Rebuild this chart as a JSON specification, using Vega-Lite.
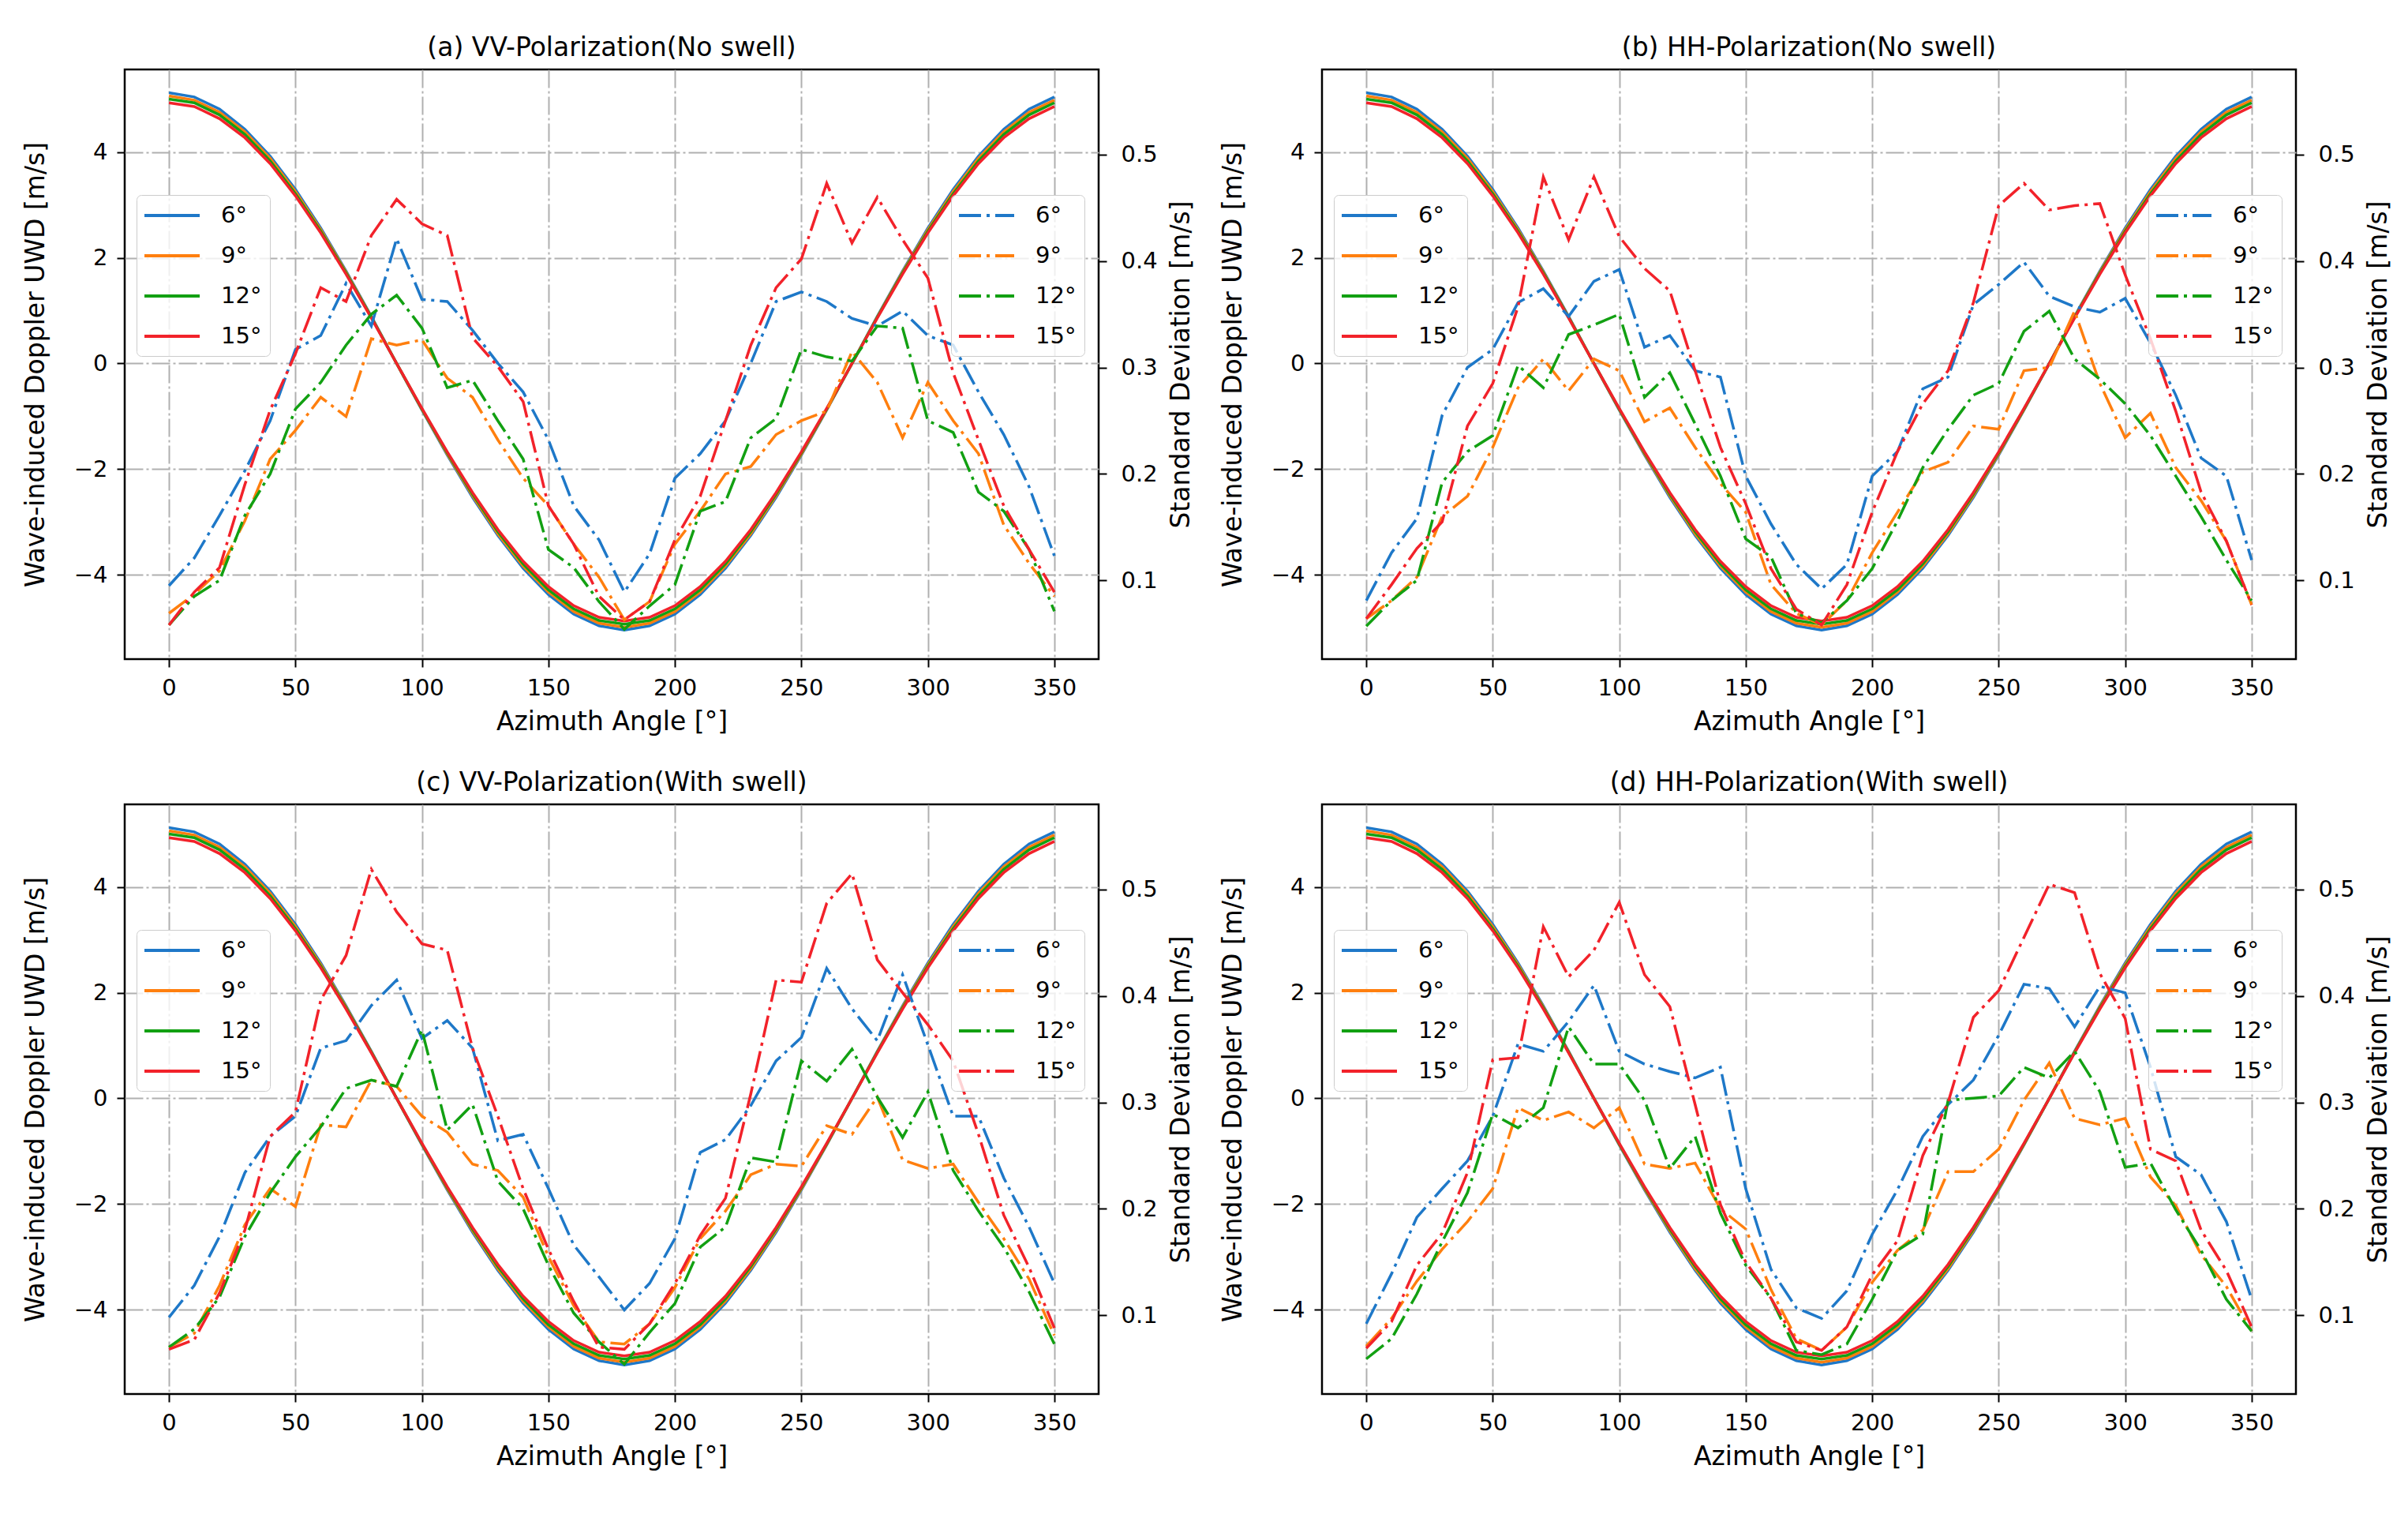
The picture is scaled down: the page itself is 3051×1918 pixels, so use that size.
{
  "$schema": "https://vega.github.io/schema/vega-lite/v6.json",
  "background": "white",
  "padding": {"left": 28, "top": 43, "right": 10, "bottom": 10},
  "columns": 2,
  "bounds": "flush",
  "spacing": {"row": 184, "column": 283},
  "datasets": {
    "dop": [
      {"g":"6°","x":0,"y":5.12},{"g":"6°","x":10,"y":5.04},{"g":"6°","x":20,"y":4.81},{"g":"6°","x":30,"y":4.43},{"g":"6°","x":40,"y":3.92},{"g":"6°","x":50,"y":3.29},{"g":"6°","x":60,"y":2.56},{"g":"6°","x":70,"y":1.75},{"g":"6°","x":80,"y":0.89},{"g":"6°","x":90,"y":0},{"g":"6°","x":100,"y":-0.88},{"g":"6°","x":110,"y":-1.73},{"g":"6°","x":120,"y":-2.53},{"g":"6°","x":130,"y":-3.25},{"g":"6°","x":140,"y":-3.87},{"g":"6°","x":150,"y":-4.37},{"g":"6°","x":160,"y":-4.74},{"g":"6°","x":170,"y":-4.96},{"g":"6°","x":180,"y":-5.04},{"g":"6°","x":190,"y":-4.96},{"g":"6°","x":200,"y":-4.74},{"g":"6°","x":210,"y":-4.37},{"g":"6°","x":220,"y":-3.87},{"g":"6°","x":230,"y":-3.25},{"g":"6°","x":240,"y":-2.53},{"g":"6°","x":250,"y":-1.73},{"g":"6°","x":260,"y":-0.88},{"g":"6°","x":270,"y":0},{"g":"6°","x":280,"y":0.89},{"g":"6°","x":290,"y":1.75},{"g":"6°","x":300,"y":2.56},{"g":"6°","x":310,"y":3.29},{"g":"6°","x":320,"y":3.92},{"g":"6°","x":330,"y":4.43},{"g":"6°","x":340,"y":4.81},{"g":"6°","x":350,"y":5.04},
      {"g":"9°","x":0,"y":5.06},{"g":"9°","x":10,"y":4.98},{"g":"9°","x":20,"y":4.75},{"g":"9°","x":30,"y":4.38},{"g":"9°","x":40,"y":3.88},{"g":"9°","x":50,"y":3.25},{"g":"9°","x":60,"y":2.53},{"g":"9°","x":70,"y":1.73},{"g":"9°","x":80,"y":0.88},{"g":"9°","x":90,"y":0},{"g":"9°","x":100,"y":-0.87},{"g":"9°","x":110,"y":-1.71},{"g":"9°","x":120,"y":-2.5},{"g":"9°","x":130,"y":-3.22},{"g":"9°","x":140,"y":-3.83},{"g":"9°","x":150,"y":-4.32},{"g":"9°","x":160,"y":-4.69},{"g":"9°","x":170,"y":-4.91},{"g":"9°","x":180,"y":-4.99},{"g":"9°","x":190,"y":-4.91},{"g":"9°","x":200,"y":-4.69},{"g":"9°","x":210,"y":-4.32},{"g":"9°","x":220,"y":-3.83},{"g":"9°","x":230,"y":-3.22},{"g":"9°","x":240,"y":-2.5},{"g":"9°","x":250,"y":-1.71},{"g":"9°","x":260,"y":-0.87},{"g":"9°","x":270,"y":0},{"g":"9°","x":280,"y":0.88},{"g":"9°","x":290,"y":1.73},{"g":"9°","x":300,"y":2.53},{"g":"9°","x":310,"y":3.25},{"g":"9°","x":320,"y":3.88},{"g":"9°","x":330,"y":4.38},{"g":"9°","x":340,"y":4.75},{"g":"9°","x":350,"y":4.98},
      {"g":"12°","x":0,"y":5.0},{"g":"12°","x":10,"y":4.93},{"g":"12°","x":20,"y":4.7},{"g":"12°","x":30,"y":4.33},{"g":"12°","x":40,"y":3.83},{"g":"12°","x":50,"y":3.21},{"g":"12°","x":60,"y":2.5},{"g":"12°","x":70,"y":1.71},{"g":"12°","x":80,"y":0.87},{"g":"12°","x":90,"y":0},{"g":"12°","x":100,"y":-0.86},{"g":"12°","x":110,"y":-1.69},{"g":"12°","x":120,"y":-2.47},{"g":"12°","x":130,"y":-3.18},{"g":"12°","x":140,"y":-3.79},{"g":"12°","x":150,"y":-4.28},{"g":"12°","x":160,"y":-4.64},{"g":"12°","x":170,"y":-4.86},{"g":"12°","x":180,"y":-4.93},{"g":"12°","x":190,"y":-4.86},{"g":"12°","x":200,"y":-4.64},{"g":"12°","x":210,"y":-4.28},{"g":"12°","x":220,"y":-3.79},{"g":"12°","x":230,"y":-3.18},{"g":"12°","x":240,"y":-2.47},{"g":"12°","x":250,"y":-1.69},{"g":"12°","x":260,"y":-0.86},{"g":"12°","x":270,"y":0},{"g":"12°","x":280,"y":0.87},{"g":"12°","x":290,"y":1.71},{"g":"12°","x":300,"y":2.5},{"g":"12°","x":310,"y":3.21},{"g":"12°","x":320,"y":3.83},{"g":"12°","x":330,"y":4.33},{"g":"12°","x":340,"y":4.7},{"g":"12°","x":350,"y":4.93},
      {"g":"15°","x":0,"y":4.93},{"g":"15°","x":10,"y":4.86},{"g":"15°","x":20,"y":4.63},{"g":"15°","x":30,"y":4.27},{"g":"15°","x":40,"y":3.78},{"g":"15°","x":50,"y":3.17},{"g":"15°","x":60,"y":2.47},{"g":"15°","x":70,"y":1.69},{"g":"15°","x":80,"y":0.86},{"g":"15°","x":90,"y":0},{"g":"15°","x":100,"y":-0.85},{"g":"15°","x":110,"y":-1.67},{"g":"15°","x":120,"y":-2.44},{"g":"15°","x":130,"y":-3.14},{"g":"15°","x":140,"y":-3.74},{"g":"15°","x":150,"y":-4.22},{"g":"15°","x":160,"y":-4.58},{"g":"15°","x":170,"y":-4.8},{"g":"15°","x":180,"y":-4.87},{"g":"15°","x":190,"y":-4.8},{"g":"15°","x":200,"y":-4.58},{"g":"15°","x":210,"y":-4.22},{"g":"15°","x":220,"y":-3.74},{"g":"15°","x":230,"y":-3.14},{"g":"15°","x":240,"y":-2.44},{"g":"15°","x":250,"y":-1.67},{"g":"15°","x":260,"y":-0.85},{"g":"15°","x":270,"y":0},{"g":"15°","x":280,"y":0.86},{"g":"15°","x":290,"y":1.69},{"g":"15°","x":300,"y":2.47},{"g":"15°","x":310,"y":3.17},{"g":"15°","x":320,"y":3.78},{"g":"15°","x":330,"y":4.27},{"g":"15°","x":340,"y":4.63},{"g":"15°","x":350,"y":4.86}
    ],
    "std": [
      {"p":"a","g":"6°","x":0,"y":0.095},{"p":"a","g":"6°","x":10,"y":0.121},{"p":"a","g":"6°","x":20,"y":0.161},{"p":"a","g":"6°","x":30,"y":0.203},{"p":"a","g":"6°","x":40,"y":0.25},{"p":"a","g":"6°","x":50,"y":0.317},{"p":"a","g":"6°","x":60,"y":0.33},{"p":"a","g":"6°","x":70,"y":0.379},{"p":"a","g":"6°","x":80,"y":0.339},{"p":"a","g":"6°","x":90,"y":0.421},{"p":"a","g":"6°","x":100,"y":0.364},{"p":"a","g":"6°","x":110,"y":0.362},{"p":"a","g":"6°","x":120,"y":0.335},{"p":"a","g":"6°","x":130,"y":0.304},{"p":"a","g":"6°","x":140,"y":0.277},{"p":"a","g":"6°","x":150,"y":0.232},{"p":"a","g":"6°","x":160,"y":0.17},{"p":"a","g":"6°","x":170,"y":0.138},{"p":"a","g":"6°","x":180,"y":0.089},{"p":"a","g":"6°","x":190,"y":0.125},{"p":"a","g":"6°","x":200,"y":0.196},{"p":"a","g":"6°","x":210,"y":0.219},{"p":"a","g":"6°","x":220,"y":0.25},{"p":"a","g":"6°","x":230,"y":0.304},{"p":"a","g":"6°","x":240,"y":0.362},{"p":"a","g":"6°","x":250,"y":0.371},{"p":"a","g":"6°","x":260,"y":0.362},{"p":"a","g":"6°","x":270,"y":0.346},{"p":"a","g":"6°","x":280,"y":0.339},{"p":"a","g":"6°","x":290,"y":0.353},{"p":"a","g":"6°","x":300,"y":0.33},{"p":"a","g":"6°","x":310,"y":0.321},{"p":"a","g":"6°","x":320,"y":0.277},{"p":"a","g":"6°","x":330,"y":0.237},{"p":"a","g":"6°","x":340,"y":0.188},{"p":"a","g":"6°","x":350,"y":0.123},
      {"p":"a","g":"9°","x":0,"y":0.069},{"p":"a","g":"9°","x":10,"y":0.087},{"p":"a","g":"9°","x":20,"y":0.109},{"p":"a","g":"9°","x":30,"y":0.156},{"p":"a","g":"9°","x":40,"y":0.214},{"p":"a","g":"9°","x":50,"y":0.241},{"p":"a","g":"9°","x":60,"y":0.272},{"p":"a","g":"9°","x":70,"y":0.254},{"p":"a","g":"9°","x":80,"y":0.327},{"p":"a","g":"9°","x":90,"y":0.321},{"p":"a","g":"9°","x":100,"y":0.326},{"p":"a","g":"9°","x":110,"y":0.29},{"p":"a","g":"9°","x":120,"y":0.272},{"p":"a","g":"9°","x":130,"y":0.232},{"p":"a","g":"9°","x":140,"y":0.196},{"p":"a","g":"9°","x":150,"y":0.17},{"p":"a","g":"9°","x":160,"y":0.134},{"p":"a","g":"9°","x":170,"y":0.103},{"p":"a","g":"9°","x":180,"y":0.063},{"p":"a","g":"9°","x":190,"y":0.08},{"p":"a","g":"9°","x":200,"y":0.134},{"p":"a","g":"9°","x":210,"y":0.165},{"p":"a","g":"9°","x":220,"y":0.2},{"p":"a","g":"9°","x":230,"y":0.207},{"p":"a","g":"9°","x":240,"y":0.237},{"p":"a","g":"9°","x":250,"y":0.25},{"p":"a","g":"9°","x":260,"y":0.259},{"p":"a","g":"9°","x":270,"y":0.315},{"p":"a","g":"9°","x":280,"y":0.286},{"p":"a","g":"9°","x":290,"y":0.234},{"p":"a","g":"9°","x":300,"y":0.286},{"p":"a","g":"9°","x":310,"y":0.25},{"p":"a","g":"9°","x":320,"y":0.219},{"p":"a","g":"9°","x":330,"y":0.152},{"p":"a","g":"9°","x":340,"y":0.116},{"p":"a","g":"9°","x":350,"y":0.085},
      {"p":"a","g":"12°","x":0,"y":0.058},{"p":"a","g":"12°","x":10,"y":0.085},{"p":"a","g":"12°","x":20,"y":0.1},{"p":"a","g":"12°","x":30,"y":0.161},{"p":"a","g":"12°","x":40,"y":0.2},{"p":"a","g":"12°","x":50,"y":0.261},{"p":"a","g":"12°","x":60,"y":0.286},{"p":"a","g":"12°","x":70,"y":0.321},{"p":"a","g":"12°","x":80,"y":0.35},{"p":"a","g":"12°","x":90,"y":0.368},{"p":"a","g":"12°","x":100,"y":0.337},{"p":"a","g":"12°","x":110,"y":0.281},{"p":"a","g":"12°","x":120,"y":0.288},{"p":"a","g":"12°","x":130,"y":0.25},{"p":"a","g":"12°","x":140,"y":0.214},{"p":"a","g":"12°","x":150,"y":0.129},{"p":"a","g":"12°","x":160,"y":0.112},{"p":"a","g":"12°","x":170,"y":0.08},{"p":"a","g":"12°","x":180,"y":0.054},{"p":"a","g":"12°","x":190,"y":0.076},{"p":"a","g":"12°","x":200,"y":0.096},{"p":"a","g":"12°","x":210,"y":0.165},{"p":"a","g":"12°","x":220,"y":0.174},{"p":"a","g":"12°","x":230,"y":0.234},{"p":"a","g":"12°","x":240,"y":0.252},{"p":"a","g":"12°","x":250,"y":0.317},{"p":"a","g":"12°","x":260,"y":0.31},{"p":"a","g":"12°","x":270,"y":0.306},{"p":"a","g":"12°","x":280,"y":0.339},{"p":"a","g":"12°","x":290,"y":0.337},{"p":"a","g":"12°","x":300,"y":0.25},{"p":"a","g":"12°","x":310,"y":0.239},{"p":"a","g":"12°","x":320,"y":0.183},{"p":"a","g":"12°","x":330,"y":0.165},{"p":"a","g":"12°","x":340,"y":0.129},{"p":"a","g":"12°","x":350,"y":0.071},
      {"p":"a","g":"15°","x":0,"y":0.058},{"p":"a","g":"15°","x":10,"y":0.089},{"p":"a","g":"15°","x":20,"y":0.112},{"p":"a","g":"15°","x":30,"y":0.19},{"p":"a","g":"15°","x":40,"y":0.26},{"p":"a","g":"15°","x":50,"y":0.313},{"p":"a","g":"15°","x":60,"y":0.375},{"p":"a","g":"15°","x":70,"y":0.362},{"p":"a","g":"15°","x":80,"y":0.424},{"p":"a","g":"15°","x":90,"y":0.458},{"p":"a","g":"15°","x":100,"y":0.435},{"p":"a","g":"15°","x":110,"y":0.424},{"p":"a","g":"15°","x":120,"y":0.328},{"p":"a","g":"15°","x":130,"y":0.301},{"p":"a","g":"15°","x":140,"y":0.268},{"p":"a","g":"15°","x":150,"y":0.17},{"p":"a","g":"15°","x":160,"y":0.134},{"p":"a","g":"15°","x":170,"y":0.085},{"p":"a","g":"15°","x":180,"y":0.063},{"p":"a","g":"15°","x":190,"y":0.08},{"p":"a","g":"15°","x":200,"y":0.138},{"p":"a","g":"15°","x":210,"y":0.179},{"p":"a","g":"15°","x":220,"y":0.25},{"p":"a","g":"15°","x":230,"y":0.321},{"p":"a","g":"15°","x":240,"y":0.375},{"p":"a","g":"15°","x":250,"y":0.402},{"p":"a","g":"15°","x":260,"y":0.473},{"p":"a","g":"15°","x":270,"y":0.417},{"p":"a","g":"15°","x":280,"y":0.46},{"p":"a","g":"15°","x":290,"y":0.42},{"p":"a","g":"15°","x":300,"y":0.384},{"p":"a","g":"15°","x":310,"y":0.295},{"p":"a","g":"15°","x":320,"y":0.232},{"p":"a","g":"15°","x":330,"y":0.17},{"p":"a","g":"15°","x":340,"y":0.129},{"p":"a","g":"15°","x":350,"y":0.089},
      {"p":"b","g":"6°","x":0,"y":0.081},{"p":"b","g":"6°","x":10,"y":0.126},{"p":"b","g":"6°","x":20,"y":0.158},{"p":"b","g":"6°","x":30,"y":0.255},{"p":"b","g":"6°","x":40,"y":0.3},{"p":"b","g":"6°","x":50,"y":0.317},{"p":"b","g":"6°","x":60,"y":0.361},{"p":"b","g":"6°","x":70,"y":0.374},{"p":"b","g":"6°","x":80,"y":0.348},{"p":"b","g":"6°","x":90,"y":0.381},{"p":"b","g":"6°","x":100,"y":0.392},{"p":"b","g":"6°","x":110,"y":0.319},{"p":"b","g":"6°","x":120,"y":0.33},{"p":"b","g":"6°","x":130,"y":0.297},{"p":"b","g":"6°","x":140,"y":0.291},{"p":"b","g":"6°","x":150,"y":0.198},{"p":"b","g":"6°","x":160,"y":0.153},{"p":"b","g":"6°","x":170,"y":0.115},{"p":"b","g":"6°","x":180,"y":0.092},{"p":"b","g":"6°","x":190,"y":0.115},{"p":"b","g":"6°","x":200,"y":0.198},{"p":"b","g":"6°","x":210,"y":0.221},{"p":"b","g":"6°","x":220,"y":0.28},{"p":"b","g":"6°","x":230,"y":0.291},{"p":"b","g":"6°","x":240,"y":0.359},{"p":"b","g":"6°","x":250,"y":0.378},{"p":"b","g":"6°","x":260,"y":0.399},{"p":"b","g":"6°","x":270,"y":0.367},{"p":"b","g":"6°","x":280,"y":0.357},{"p":"b","g":"6°","x":290,"y":0.352},{"p":"b","g":"6°","x":300,"y":0.365},{"p":"b","g":"6°","x":310,"y":0.323},{"p":"b","g":"6°","x":320,"y":0.274},{"p":"b","g":"6°","x":330,"y":0.215},{"p":"b","g":"6°","x":340,"y":0.198},{"p":"b","g":"6°","x":350,"y":0.119},
      {"p":"b","g":"9°","x":0,"y":0.064},{"p":"b","g":"9°","x":10,"y":0.081},{"p":"b","g":"9°","x":20,"y":0.103},{"p":"b","g":"9°","x":30,"y":0.16},{"p":"b","g":"9°","x":40,"y":0.179},{"p":"b","g":"9°","x":50,"y":0.225},{"p":"b","g":"9°","x":60,"y":0.281},{"p":"b","g":"9°","x":70,"y":0.308},{"p":"b","g":"9°","x":80,"y":0.278},{"p":"b","g":"9°","x":90,"y":0.308},{"p":"b","g":"9°","x":100,"y":0.297},{"p":"b","g":"9°","x":110,"y":0.249},{"p":"b","g":"9°","x":120,"y":0.262},{"p":"b","g":"9°","x":130,"y":0.225},{"p":"b","g":"9°","x":140,"y":0.191},{"p":"b","g":"9°","x":150,"y":0.164},{"p":"b","g":"9°","x":160,"y":0.096},{"p":"b","g":"9°","x":170,"y":0.069},{"p":"b","g":"9°","x":180,"y":0.058},{"p":"b","g":"9°","x":190,"y":0.081},{"p":"b","g":"9°","x":200,"y":0.126},{"p":"b","g":"9°","x":210,"y":0.164},{"p":"b","g":"9°","x":220,"y":0.202},{"p":"b","g":"9°","x":230,"y":0.211},{"p":"b","g":"9°","x":240,"y":0.245},{"p":"b","g":"9°","x":250,"y":0.242},{"p":"b","g":"9°","x":260,"y":0.297},{"p":"b","g":"9°","x":270,"y":0.3},{"p":"b","g":"9°","x":280,"y":0.353},{"p":"b","g":"9°","x":290,"y":0.285},{"p":"b","g":"9°","x":300,"y":0.234},{"p":"b","g":"9°","x":310,"y":0.257},{"p":"b","g":"9°","x":320,"y":0.206},{"p":"b","g":"9°","x":330,"y":0.175},{"p":"b","g":"9°","x":340,"y":0.137},{"p":"b","g":"9°","x":350,"y":0.077},
      {"p":"b","g":"12°","x":0,"y":0.057},{"p":"b","g":"12°","x":10,"y":0.081},{"p":"b","g":"12°","x":20,"y":0.1},{"p":"b","g":"12°","x":30,"y":0.192},{"p":"b","g":"12°","x":40,"y":0.221},{"p":"b","g":"12°","x":50,"y":0.236},{"p":"b","g":"12°","x":60,"y":0.302},{"p":"b","g":"12°","x":70,"y":0.281},{"p":"b","g":"12°","x":80,"y":0.331},{"p":"b","g":"12°","x":90,"y":0.34},{"p":"b","g":"12°","x":100,"y":0.35},{"p":"b","g":"12°","x":110,"y":0.272},{"p":"b","g":"12°","x":120,"y":0.295},{"p":"b","g":"12°","x":130,"y":0.247},{"p":"b","g":"12°","x":140,"y":0.198},{"p":"b","g":"12°","x":150,"y":0.139},{"p":"b","g":"12°","x":160,"y":0.122},{"p":"b","g":"12°","x":170,"y":0.069},{"p":"b","g":"12°","x":180,"y":0.06},{"p":"b","g":"12°","x":190,"y":0.081},{"p":"b","g":"12°","x":200,"y":0.111},{"p":"b","g":"12°","x":210,"y":0.156},{"p":"b","g":"12°","x":220,"y":0.206},{"p":"b","g":"12°","x":230,"y":0.242},{"p":"b","g":"12°","x":240,"y":0.274},{"p":"b","g":"12°","x":250,"y":0.285},{"p":"b","g":"12°","x":260,"y":0.334},{"p":"b","g":"12°","x":270,"y":0.353},{"p":"b","g":"12°","x":280,"y":0.308},{"p":"b","g":"12°","x":290,"y":0.289},{"p":"b","g":"12°","x":300,"y":0.266},{"p":"b","g":"12°","x":310,"y":0.236},{"p":"b","g":"12°","x":320,"y":0.198},{"p":"b","g":"12°","x":330,"y":0.16},{"p":"b","g":"12°","x":340,"y":0.119},{"p":"b","g":"12°","x":350,"y":0.081},
      {"p":"b","g":"15°","x":0,"y":0.064},{"p":"b","g":"15°","x":10,"y":0.096},{"p":"b","g":"15°","x":20,"y":0.13},{"p":"b","g":"15°","x":30,"y":0.155},{"p":"b","g":"15°","x":40,"y":0.245},{"p":"b","g":"15°","x":50,"y":0.285},{"p":"b","g":"15°","x":60,"y":0.357},{"p":"b","g":"15°","x":70,"y":0.479},{"p":"b","g":"15°","x":80,"y":0.42},{"p":"b","g":"15°","x":90,"y":0.479},{"p":"b","g":"15°","x":100,"y":0.423},{"p":"b","g":"15°","x":110,"y":0.393},{"p":"b","g":"15°","x":120,"y":0.372},{"p":"b","g":"15°","x":130,"y":0.297},{"p":"b","g":"15°","x":140,"y":0.225},{"p":"b","g":"15°","x":150,"y":0.172},{"p":"b","g":"15°","x":160,"y":0.111},{"p":"b","g":"15°","x":170,"y":0.073},{"p":"b","g":"15°","x":180,"y":0.058},{"p":"b","g":"15°","x":190,"y":0.096},{"p":"b","g":"15°","x":200,"y":0.164},{"p":"b","g":"15°","x":210,"y":0.221},{"p":"b","g":"15°","x":220,"y":0.266},{"p":"b","g":"15°","x":230,"y":0.297},{"p":"b","g":"15°","x":240,"y":0.361},{"p":"b","g":"15°","x":250,"y":0.452},{"p":"b","g":"15°","x":260,"y":0.473},{"p":"b","g":"15°","x":270,"y":0.448},{"p":"b","g":"15°","x":280,"y":0.452},{"p":"b","g":"15°","x":290,"y":0.454},{"p":"b","g":"15°","x":300,"y":0.387},{"p":"b","g":"15°","x":310,"y":0.327},{"p":"b","g":"15°","x":320,"y":0.259},{"p":"b","g":"15°","x":330,"y":0.183},{"p":"b","g":"15°","x":340,"y":0.137},{"p":"b","g":"15°","x":350,"y":0.077},
      {"p":"c","g":"6°","x":0,"y":0.098},{"p":"c","g":"6°","x":10,"y":0.128},{"p":"c","g":"6°","x":20,"y":0.174},{"p":"c","g":"6°","x":30,"y":0.234},{"p":"c","g":"6°","x":40,"y":0.268},{"p":"c","g":"6°","x":50,"y":0.287},{"p":"c","g":"6°","x":60,"y":0.351},{"p":"c","g":"6°","x":70,"y":0.358},{"p":"c","g":"6°","x":80,"y":0.391},{"p":"c","g":"6°","x":90,"y":0.415},{"p":"c","g":"6°","x":100,"y":0.36},{"p":"c","g":"6°","x":110,"y":0.377},{"p":"c","g":"6°","x":120,"y":0.351},{"p":"c","g":"6°","x":130,"y":0.264},{"p":"c","g":"6°","x":140,"y":0.27},{"p":"c","g":"6°","x":150,"y":0.219},{"p":"c","g":"6°","x":160,"y":0.166},{"p":"c","g":"6°","x":170,"y":0.136},{"p":"c","g":"6°","x":180,"y":0.105},{"p":"c","g":"6°","x":190,"y":0.13},{"p":"c","g":"6°","x":200,"y":0.172},{"p":"c","g":"6°","x":210,"y":0.253},{"p":"c","g":"6°","x":220,"y":0.265},{"p":"c","g":"6°","x":230,"y":0.297},{"p":"c","g":"6°","x":240,"y":0.339},{"p":"c","g":"6°","x":250,"y":0.361},{"p":"c","g":"6°","x":260,"y":0.426},{"p":"c","g":"6°","x":270,"y":0.388},{"p":"c","g":"6°","x":280,"y":0.358},{"p":"c","g":"6°","x":290,"y":0.42},{"p":"c","g":"6°","x":300,"y":0.354},{"p":"c","g":"6°","x":310,"y":0.287},{"p":"c","g":"6°","x":320,"y":0.287},{"p":"c","g":"6°","x":330,"y":0.229},{"p":"c","g":"6°","x":340,"y":0.183},{"p":"c","g":"6°","x":350,"y":0.13},
      {"p":"c","g":"9°","x":0,"y":0.07},{"p":"c","g":"9°","x":10,"y":0.083},{"p":"c","g":"9°","x":20,"y":0.128},{"p":"c","g":"9°","x":30,"y":0.185},{"p":"c","g":"9°","x":40,"y":0.219},{"p":"c","g":"9°","x":50,"y":0.202},{"p":"c","g":"9°","x":60,"y":0.279},{"p":"c","g":"9°","x":70,"y":0.277},{"p":"c","g":"9°","x":80,"y":0.321},{"p":"c","g":"9°","x":90,"y":0.315},{"p":"c","g":"9°","x":100,"y":0.287},{"p":"c","g":"9°","x":110,"y":0.272},{"p":"c","g":"9°","x":120,"y":0.242},{"p":"c","g":"9°","x":130,"y":0.236},{"p":"c","g":"9°","x":140,"y":0.211},{"p":"c","g":"9°","x":150,"y":0.155},{"p":"c","g":"9°","x":160,"y":0.109},{"p":"c","g":"9°","x":170,"y":0.075},{"p":"c","g":"9°","x":180,"y":0.073},{"p":"c","g":"9°","x":190,"y":0.092},{"p":"c","g":"9°","x":200,"y":0.126},{"p":"c","g":"9°","x":210,"y":0.172},{"p":"c","g":"9°","x":220,"y":0.198},{"p":"c","g":"9°","x":230,"y":0.232},{"p":"c","g":"9°","x":240,"y":0.242},{"p":"c","g":"9°","x":250,"y":0.24},{"p":"c","g":"9°","x":260,"y":0.278},{"p":"c","g":"9°","x":270,"y":0.27},{"p":"c","g":"9°","x":280,"y":0.305},{"p":"c","g":"9°","x":290,"y":0.246},{"p":"c","g":"9°","x":300,"y":0.238},{"p":"c","g":"9°","x":310,"y":0.242},{"p":"c","g":"9°","x":320,"y":0.206},{"p":"c","g":"9°","x":330,"y":0.172},{"p":"c","g":"9°","x":340,"y":0.134},{"p":"c","g":"9°","x":350,"y":0.081},
      {"p":"c","g":"12°","x":0,"y":0.07},{"p":"c","g":"12°","x":10,"y":0.087},{"p":"c","g":"12°","x":20,"y":0.117},{"p":"c","g":"12°","x":30,"y":0.174},{"p":"c","g":"12°","x":40,"y":0.215},{"p":"c","g":"12°","x":50,"y":0.249},{"p":"c","g":"12°","x":60,"y":0.277},{"p":"c","g":"12°","x":70,"y":0.313},{"p":"c","g":"12°","x":80,"y":0.321},{"p":"c","g":"12°","x":90,"y":0.315},{"p":"c","g":"12°","x":100,"y":0.368},{"p":"c","g":"12°","x":110,"y":0.274},{"p":"c","g":"12°","x":120,"y":0.298},{"p":"c","g":"12°","x":130,"y":0.226},{"p":"c","g":"12°","x":140,"y":0.2},{"p":"c","g":"12°","x":150,"y":0.147},{"p":"c","g":"12°","x":160,"y":0.102},{"p":"c","g":"12°","x":170,"y":0.075},{"p":"c","g":"12°","x":180,"y":0.054},{"p":"c","g":"12°","x":190,"y":0.084},{"p":"c","g":"12°","x":200,"y":0.111},{"p":"c","g":"12°","x":210,"y":0.164},{"p":"c","g":"12°","x":220,"y":0.183},{"p":"c","g":"12°","x":230,"y":0.248},{"p":"c","g":"12°","x":240,"y":0.244},{"p":"c","g":"12°","x":250,"y":0.339},{"p":"c","g":"12°","x":260,"y":0.32},{"p":"c","g":"12°","x":270,"y":0.35},{"p":"c","g":"12°","x":280,"y":0.305},{"p":"c","g":"12°","x":290,"y":0.267},{"p":"c","g":"12°","x":300,"y":0.31},{"p":"c","g":"12°","x":310,"y":0.236},{"p":"c","g":"12°","x":320,"y":0.198},{"p":"c","g":"12°","x":330,"y":0.164},{"p":"c","g":"12°","x":340,"y":0.122},{"p":"c","g":"12°","x":350,"y":0.073},
      {"p":"c","g":"15°","x":0,"y":0.068},{"p":"c","g":"15°","x":10,"y":0.077},{"p":"c","g":"15°","x":20,"y":0.121},{"p":"c","g":"15°","x":30,"y":0.18},{"p":"c","g":"15°","x":40,"y":0.268},{"p":"c","g":"15°","x":50,"y":0.291},{"p":"c","g":"15°","x":60,"y":0.396},{"p":"c","g":"15°","x":70,"y":0.438},{"p":"c","g":"15°","x":80,"y":0.519},{"p":"c","g":"15°","x":90,"y":0.479},{"p":"c","g":"15°","x":100,"y":0.449},{"p":"c","g":"15°","x":110,"y":0.443},{"p":"c","g":"15°","x":120,"y":0.351},{"p":"c","g":"15°","x":130,"y":0.287},{"p":"c","g":"15°","x":140,"y":0.219},{"p":"c","g":"15°","x":150,"y":0.162},{"p":"c","g":"15°","x":160,"y":0.113},{"p":"c","g":"15°","x":170,"y":0.07},{"p":"c","g":"15°","x":180,"y":0.068},{"p":"c","g":"15°","x":190,"y":0.092},{"p":"c","g":"15°","x":200,"y":0.13},{"p":"c","g":"15°","x":210,"y":0.175},{"p":"c","g":"15°","x":220,"y":0.21},{"p":"c","g":"15°","x":230,"y":0.308},{"p":"c","g":"15°","x":240,"y":0.415},{"p":"c","g":"15°","x":250,"y":0.413},{"p":"c","g":"15°","x":260,"y":0.487},{"p":"c","g":"15°","x":270,"y":0.515},{"p":"c","g":"15°","x":280,"y":0.434},{"p":"c","g":"15°","x":290,"y":0.403},{"p":"c","g":"15°","x":300,"y":0.373},{"p":"c","g":"15°","x":310,"y":0.339},{"p":"c","g":"15°","x":320,"y":0.27},{"p":"c","g":"15°","x":330,"y":0.194},{"p":"c","g":"15°","x":340,"y":0.145},{"p":"c","g":"15°","x":350,"y":0.088},
      {"p":"d","g":"6°","x":0,"y":0.092},{"p":"d","g":"6°","x":10,"y":0.139},{"p":"d","g":"6°","x":20,"y":0.192},{"p":"d","g":"6°","x":30,"y":0.219},{"p":"d","g":"6°","x":40,"y":0.245},{"p":"d","g":"6°","x":50,"y":0.287},{"p":"d","g":"6°","x":60,"y":0.355},{"p":"d","g":"6°","x":70,"y":0.348},{"p":"d","g":"6°","x":80,"y":0.376},{"p":"d","g":"6°","x":90,"y":0.41},{"p":"d","g":"6°","x":100,"y":0.348},{"p":"d","g":"6°","x":110,"y":0.336},{"p":"d","g":"6°","x":120,"y":0.329},{"p":"d","g":"6°","x":130,"y":0.323},{"p":"d","g":"6°","x":140,"y":0.333},{"p":"d","g":"6°","x":150,"y":0.219},{"p":"d","g":"6°","x":160,"y":0.143},{"p":"d","g":"6°","x":170,"y":0.107},{"p":"d","g":"6°","x":180,"y":0.097},{"p":"d","g":"6°","x":190,"y":0.123},{"p":"d","g":"6°","x":200,"y":0.176},{"p":"d","g":"6°","x":210,"y":0.218},{"p":"d","g":"6°","x":220,"y":0.268},{"p":"d","g":"6°","x":230,"y":0.298},{"p":"d","g":"6°","x":240,"y":0.321},{"p":"d","g":"6°","x":250,"y":0.363},{"p":"d","g":"6°","x":260,"y":0.411},{"p":"d","g":"6°","x":270,"y":0.407},{"p":"d","g":"6°","x":280,"y":0.371},{"p":"d","g":"6°","x":290,"y":0.409},{"p":"d","g":"6°","x":300,"y":0.403},{"p":"d","g":"6°","x":310,"y":0.333},{"p":"d","g":"6°","x":320,"y":0.249},{"p":"d","g":"6°","x":330,"y":0.232},{"p":"d","g":"6°","x":340,"y":0.188},{"p":"d","g":"6°","x":350,"y":0.115},
      {"p":"d","g":"9°","x":0,"y":0.071},{"p":"d","g":"9°","x":10,"y":0.097},{"p":"d","g":"9°","x":20,"y":0.132},{"p":"d","g":"9°","x":30,"y":0.162},{"p":"d","g":"9°","x":40,"y":0.188},{"p":"d","g":"9°","x":50,"y":0.219},{"p":"d","g":"9°","x":60,"y":0.295},{"p":"d","g":"9°","x":70,"y":0.283},{"p":"d","g":"9°","x":80,"y":0.291},{"p":"d","g":"9°","x":90,"y":0.276},{"p":"d","g":"9°","x":100,"y":0.295},{"p":"d","g":"9°","x":110,"y":0.242},{"p":"d","g":"9°","x":120,"y":0.238},{"p":"d","g":"9°","x":130,"y":0.243},{"p":"d","g":"9°","x":140,"y":0.2},{"p":"d","g":"9°","x":150,"y":0.181},{"p":"d","g":"9°","x":160,"y":0.124},{"p":"d","g":"9°","x":170,"y":0.078},{"p":"d","g":"9°","x":180,"y":0.067},{"p":"d","g":"9°","x":190,"y":0.089},{"p":"d","g":"9°","x":200,"y":0.131},{"p":"d","g":"9°","x":210,"y":0.161},{"p":"d","g":"9°","x":220,"y":0.18},{"p":"d","g":"9°","x":230,"y":0.235},{"p":"d","g":"9°","x":240,"y":0.235},{"p":"d","g":"9°","x":250,"y":0.256},{"p":"d","g":"9°","x":260,"y":0.302},{"p":"d","g":"9°","x":270,"y":0.337},{"p":"d","g":"9°","x":280,"y":0.285},{"p":"d","g":"9°","x":290,"y":0.279},{"p":"d","g":"9°","x":300,"y":0.285},{"p":"d","g":"9°","x":310,"y":0.23},{"p":"d","g":"9°","x":320,"y":0.203},{"p":"d","g":"9°","x":330,"y":0.157},{"p":"d","g":"9°","x":340,"y":0.127},{"p":"d","g":"9°","x":350,"y":0.085},
      {"p":"d","g":"12°","x":0,"y":0.059},{"p":"d","g":"12°","x":10,"y":0.078},{"p":"d","g":"12°","x":20,"y":0.12},{"p":"d","g":"12°","x":30,"y":0.169},{"p":"d","g":"12°","x":40,"y":0.215},{"p":"d","g":"12°","x":50,"y":0.289},{"p":"d","g":"12°","x":60,"y":0.276},{"p":"d","g":"12°","x":70,"y":0.295},{"p":"d","g":"12°","x":80,"y":0.371},{"p":"d","g":"12°","x":90,"y":0.336},{"p":"d","g":"12°","x":100,"y":0.336},{"p":"d","g":"12°","x":110,"y":0.302},{"p":"d","g":"12°","x":120,"y":0.238},{"p":"d","g":"12°","x":130,"y":0.268},{"p":"d","g":"12°","x":140,"y":0.196},{"p":"d","g":"12°","x":150,"y":0.147},{"p":"d","g":"12°","x":160,"y":0.116},{"p":"d","g":"12°","x":170,"y":0.067},{"p":"d","g":"12°","x":180,"y":0.063},{"p":"d","g":"12°","x":190,"y":0.073},{"p":"d","g":"12°","x":200,"y":0.115},{"p":"d","g":"12°","x":210,"y":0.161},{"p":"d","g":"12°","x":220,"y":0.176},{"p":"d","g":"12°","x":230,"y":0.302},{"p":"d","g":"12°","x":240,"y":0.304},{"p":"d","g":"12°","x":250,"y":0.306},{"p":"d","g":"12°","x":260,"y":0.333},{"p":"d","g":"12°","x":270,"y":0.323},{"p":"d","g":"12°","x":280,"y":0.348},{"p":"d","g":"12°","x":290,"y":0.31},{"p":"d","g":"12°","x":300,"y":0.239},{"p":"d","g":"12°","x":310,"y":0.243},{"p":"d","g":"12°","x":320,"y":0.199},{"p":"d","g":"12°","x":330,"y":0.161},{"p":"d","g":"12°","x":340,"y":0.115},{"p":"d","g":"12°","x":350,"y":0.085},
      {"p":"d","g":"15°","x":0,"y":0.069},{"p":"d","g":"15°","x":10,"y":0.094},{"p":"d","g":"15°","x":20,"y":0.147},{"p":"d","g":"15°","x":30,"y":0.177},{"p":"d","g":"15°","x":40,"y":0.234},{"p":"d","g":"15°","x":50,"y":0.34},{"p":"d","g":"15°","x":60,"y":0.342},{"p":"d","g":"15°","x":70,"y":0.465},{"p":"d","g":"15°","x":80,"y":0.418},{"p":"d","g":"15°","x":90,"y":0.443},{"p":"d","g":"15°","x":100,"y":0.488},{"p":"d","g":"15°","x":110,"y":0.42},{"p":"d","g":"15°","x":120,"y":0.39},{"p":"d","g":"15°","x":130,"y":0.298},{"p":"d","g":"15°","x":140,"y":0.204},{"p":"d","g":"15°","x":150,"y":0.15},{"p":"d","g":"15°","x":160,"y":0.116},{"p":"d","g":"15°","x":170,"y":0.075},{"p":"d","g":"15°","x":180,"y":0.067},{"p":"d","g":"15°","x":190,"y":0.089},{"p":"d","g":"15°","x":200,"y":0.138},{"p":"d","g":"15°","x":210,"y":0.17},{"p":"d","g":"15°","x":220,"y":0.25},{"p":"d","g":"15°","x":230,"y":0.3},{"p":"d","g":"15°","x":240,"y":0.38},{"p":"d","g":"15°","x":250,"y":0.405},{"p":"d","g":"15°","x":260,"y":0.455},{"p":"d","g":"15°","x":270,"y":0.505},{"p":"d","g":"15°","x":280,"y":0.497},{"p":"d","g":"15°","x":290,"y":0.421},{"p":"d","g":"15°","x":300,"y":0.379},{"p":"d","g":"15°","x":310,"y":0.256},{"p":"d","g":"15°","x":320,"y":0.245},{"p":"d","g":"15°","x":330,"y":0.18},{"p":"d","g":"15°","x":340,"y":0.142},{"p":"d","g":"15°","x":350,"y":0.089}
    ]
  },
  "concat": [
    {
      "title": "(a) VV-Polarization(No swell)",
      "width": 1234, "height": 747,
      "layer": [
        {"data": {"name": "dop"}, "mark": {"type": "line", "strokeWidth": 3.5},
         "encoding": {
           "x": {"field": "x", "type": "quantitative", "scale": {"domain": [-17.5, 367.5], "nice": false, "zero": false}, "axis": {"values": [0,50,100,150,200,250,300,350], "title": "Azimuth Angle [°]"}},
           "y": {"field": "y", "type": "quantitative", "scale": {"domain": [-5.59, 5.56], "nice": false, "zero": false}, "axis": {"values": [-4,-2,0,2,4], "title": "Wave-induced Doppler UWD [m/s]", "titlePadding": 31}},
           "color": {"field": "g", "type": "nominal", "scale": {"domain": ["6°","9°","12°","15°"], "range": ["#1e78c8","#ff7f0e","#12a012","#f2222a"]}, "legend": {"orient": "none", "legendX": 15, "legendY": 159, "title": null}}
         }},
        {"data": {"name": "std"}, "transform": [{"filter": {"field": "p", "equal": "a"}}],
         "mark": {"type": "line", "strokeWidth": 3.5, "strokeDash": [28, 7, 4, 7]},
         "encoding": {
           "x": {"field": "x", "type": "quantitative", "axis": {"values": [0,50,100,150,200,250,300,350], "title": "Azimuth Angle [°]"}},
           "y": {"field": "y", "type": "quantitative", "scale": {"domain": [0.026, 0.58], "nice": false, "zero": false}, "axis": {"orient": "right", "values": [0.1,0.2,0.3,0.4,0.5], "format": ".1f", "grid": false, "labelPadding": 18, "title": "Standard Deviation [m/s]", "titleAngle": 270, "titleBaseline": "top", "titlePadding": 14}},
           "color": {"field": "g", "type": "nominal", "scale": {"domain": ["6°","9°","12°","15°"], "range": ["#1e78c8","#ff7f0e","#12a012","#f2222a"]}, "legend": {"orient": "none", "legendX": 1047, "legendY": 159, "title": null, "symbolDash": [28, 7, 4, 7]}}
         }}
      ],
      "resolve": {"scale": {"y": "independent", "color": "independent"}}
    },
    {
      "title": "(b) HH-Polarization(No swell)",
      "width": 1234, "height": 747,
      "layer": [
        {"data": {"name": "dop"}, "mark": {"type": "line", "strokeWidth": 3.5},
         "encoding": {
           "x": {"field": "x", "type": "quantitative", "scale": {"domain": [-17.5, 367.5], "nice": false, "zero": false}, "axis": {"values": [0,50,100,150,200,250,300,350], "title": "Azimuth Angle [°]"}},
           "y": {"field": "y", "type": "quantitative", "scale": {"domain": [-5.59, 5.56], "nice": false, "zero": false}, "axis": {"values": [-4,-2,0,2,4], "title": "Wave-induced Doppler UWD [m/s]", "titlePadding": 31}},
           "color": {"field": "g", "type": "nominal", "scale": {"domain": ["6°","9°","12°","15°"], "range": ["#1e78c8","#ff7f0e","#12a012","#f2222a"]}, "legend": {"orient": "none", "legendX": 15, "legendY": 159, "title": null}}
         }},
        {"data": {"name": "std"}, "transform": [{"filter": {"field": "p", "equal": "b"}}],
         "mark": {"type": "line", "strokeWidth": 3.5, "strokeDash": [28, 7, 4, 7]},
         "encoding": {
           "x": {"field": "x", "type": "quantitative", "axis": {"values": [0,50,100,150,200,250,300,350], "title": "Azimuth Angle [°]"}},
           "y": {"field": "y", "type": "quantitative", "scale": {"domain": [0.026, 0.58], "nice": false, "zero": false}, "axis": {"orient": "right", "values": [0.1,0.2,0.3,0.4,0.5], "format": ".1f", "grid": false, "labelPadding": 18, "title": "Standard Deviation [m/s]", "titleAngle": 270, "titleBaseline": "top", "titlePadding": 14}},
           "color": {"field": "g", "type": "nominal", "scale": {"domain": ["6°","9°","12°","15°"], "range": ["#1e78c8","#ff7f0e","#12a012","#f2222a"]}, "legend": {"orient": "none", "legendX": 1047, "legendY": 159, "title": null, "symbolDash": [28, 7, 4, 7]}}
         }}
      ],
      "resolve": {"scale": {"y": "independent", "color": "independent"}}
    },
    {
      "title": "(c) VV-Polarization(With swell)",
      "width": 1234, "height": 747,
      "layer": [
        {"data": {"name": "dop"}, "mark": {"type": "line", "strokeWidth": 3.5},
         "encoding": {
           "x": {"field": "x", "type": "quantitative", "scale": {"domain": [-17.5, 367.5], "nice": false, "zero": false}, "axis": {"values": [0,50,100,150,200,250,300,350], "title": "Azimuth Angle [°]"}},
           "y": {"field": "y", "type": "quantitative", "scale": {"domain": [-5.59, 5.56], "nice": false, "zero": false}, "axis": {"values": [-4,-2,0,2,4], "title": "Wave-induced Doppler UWD [m/s]", "titlePadding": 31}},
           "color": {"field": "g", "type": "nominal", "scale": {"domain": ["6°","9°","12°","15°"], "range": ["#1e78c8","#ff7f0e","#12a012","#f2222a"]}, "legend": {"orient": "none", "legendX": 15, "legendY": 159, "title": null}}
         }},
        {"data": {"name": "std"}, "transform": [{"filter": {"field": "p", "equal": "c"}}],
         "mark": {"type": "line", "strokeWidth": 3.5, "strokeDash": [28, 7, 4, 7]},
         "encoding": {
           "x": {"field": "x", "type": "quantitative", "axis": {"values": [0,50,100,150,200,250,300,350], "title": "Azimuth Angle [°]"}},
           "y": {"field": "y", "type": "quantitative", "scale": {"domain": [0.026, 0.58], "nice": false, "zero": false}, "axis": {"orient": "right", "values": [0.1,0.2,0.3,0.4,0.5], "format": ".1f", "grid": false, "labelPadding": 18, "title": "Standard Deviation [m/s]", "titleAngle": 270, "titleBaseline": "top", "titlePadding": 14}},
           "color": {"field": "g", "type": "nominal", "scale": {"domain": ["6°","9°","12°","15°"], "range": ["#1e78c8","#ff7f0e","#12a012","#f2222a"]}, "legend": {"orient": "none", "legendX": 1047, "legendY": 159, "title": null, "symbolDash": [28, 7, 4, 7]}}
         }}
      ],
      "resolve": {"scale": {"y": "independent", "color": "independent"}}
    },
    {
      "title": "(d) HH-Polarization(With swell)",
      "width": 1234, "height": 747,
      "layer": [
        {"data": {"name": "dop"}, "mark": {"type": "line", "strokeWidth": 3.5},
         "encoding": {
           "x": {"field": "x", "type": "quantitative", "scale": {"domain": [-17.5, 367.5], "nice": false, "zero": false}, "axis": {"values": [0,50,100,150,200,250,300,350], "title": "Azimuth Angle [°]"}},
           "y": {"field": "y", "type": "quantitative", "scale": {"domain": [-5.59, 5.56], "nice": false, "zero": false}, "axis": {"values": [-4,-2,0,2,4], "title": "Wave-induced Doppler UWD [m/s]", "titlePadding": 31}},
           "color": {"field": "g", "type": "nominal", "scale": {"domain": ["6°","9°","12°","15°"], "range": ["#1e78c8","#ff7f0e","#12a012","#f2222a"]}, "legend": {"orient": "none", "legendX": 15, "legendY": 159, "title": null}}
         }},
        {"data": {"name": "std"}, "transform": [{"filter": {"field": "p", "equal": "d"}}],
         "mark": {"type": "line", "strokeWidth": 3.5, "strokeDash": [28, 7, 4, 7]},
         "encoding": {
           "x": {"field": "x", "type": "quantitative", "axis": {"values": [0,50,100,150,200,250,300,350], "title": "Azimuth Angle [°]"}},
           "y": {"field": "y", "type": "quantitative", "scale": {"domain": [0.026, 0.58], "nice": false, "zero": false}, "axis": {"orient": "right", "values": [0.1,0.2,0.3,0.4,0.5], "format": ".1f", "grid": false, "labelPadding": 18, "title": "Standard Deviation [m/s]", "titleAngle": 270, "titleBaseline": "top", "titlePadding": 14}},
           "color": {"field": "g", "type": "nominal", "scale": {"domain": ["6°","9°","12°","15°"], "range": ["#1e78c8","#ff7f0e","#12a012","#f2222a"]}, "legend": {"orient": "none", "legendX": 1047, "legendY": 159, "title": null, "symbolDash": [28, 7, 4, 7]}}
         }}
      ],
      "resolve": {"scale": {"y": "independent", "color": "independent"}}
    }
  ],
  "resolve": {"scale": {"color": "independent"}},
  "config": {
    "font": "DejaVu Sans",
    "view": {"stroke": "black", "strokeWidth": 2.5},
    "title": {"fontSize": 33, "fontWeight": "normal", "color": "black", "anchor": "middle", "frame": "group", "offset": 10},
    "axis": {
      "labelFontSize": 29, "labelColor": "black", "labelPadding": 12, "labelFlush": false, "labelOverlap": false,
      "titleFontSize": 33, "titleFontWeight": "normal", "titleColor": "black", "titlePadding": 12,
      "tickColor": "black", "tickSize": 10, "tickWidth": 2, "domain": false,
      "grid": true, "gridColor": "#b0b0b0", "gridWidth": 2, "gridDash": [23, 4, 3, 4]
    },
    "legend": {
      "labelFontSize": 29, "labelColor": "black",
      "symbolType": "M-2.5,0H2.5", "symbolSize": 784, "symbolStrokeWidth": 4,
      "symbolOffset": 19, "labelOffset": 46, "rowPadding": 20, "padding": 10,
      "fillColor": "rgba(255,255,255,0.8)", "strokeColor": "#cccccc", "cornerRadius": 6
    }
  }
}
